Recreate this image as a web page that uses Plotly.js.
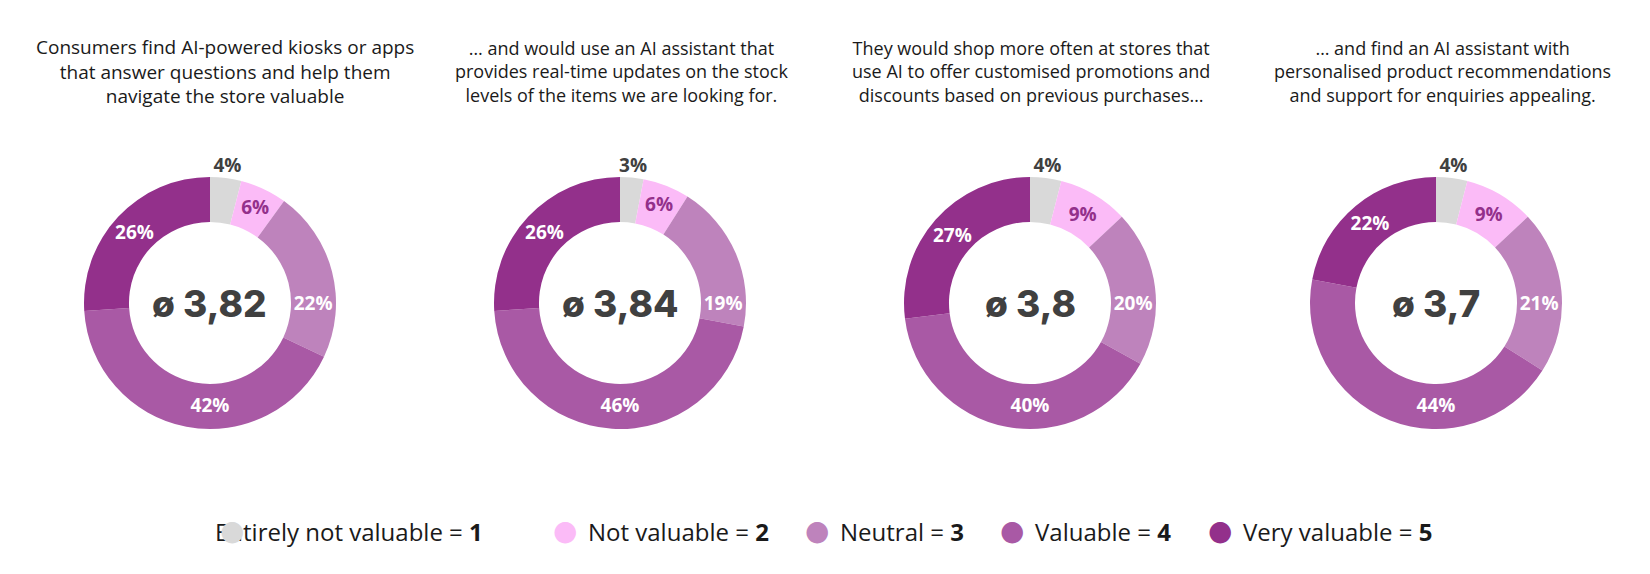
<!DOCTYPE html>
<html>
<head>
<meta charset="utf-8">
<script src="https://cdn.plot.ly/plotly-3.0.1.min.js"></script>
<style>html,body{margin:0;padding:0;background:#fff;}#chart{width:1650px;height:574px;}</style>
</head>
<body>
<div id="chart"></div>
<script>
// ---- data ----
const categories = ["Entirely not valuable", "Not valuable", "Neutral", "Valuable", "Very valuable"];
const scores = [1, 2, 3, 4, 5];
const titles = [
  "Consumers find AI-powered kiosks or apps<br>that answer questions and help them<br>navigate the store valuable",
  "… and would use an AI assistant that<br>provides real-time updates on the stock<br>levels of the items we are looking for.",
  "They would shop more often at stores that<br>use AI to offer customised promotions and<br>discounts based on previous purchases…",
  "… and find an AI assistant with<br>personalised product recommendations<br>and support for enquiries appealing."
];
const values1 = [4, 6, 22, 42, 26];
const values2 = [3, 6, 19, 46, 26];
const values3 = [4, 9, 20, 40, 27];
const values4 = [4, 9, 21, 44, 22];
const averages = ["3,82", "3,84", "3,8", "3,7"];

// ---- style ----
const colors = ["#d9d9d9", "#fbbbf7", "#be83bc", "#a959a5", "#93308b"];
const textColors = ["#404040", "#93308b", "#ffffff", "#ffffff", "#ffffff"];
const W = 1650, H = 574;
const centersX = [210, 620, 1030, 1436];
const titleX = [225, 621, 1031, 1442];
const titleSize = [19, 18, 18, 18];
const cy = 303, R = 126, R2 = 152;
const allValues = [values1, values2, values3, values4];
// legend layout (pixels)
const legMarkerX = [232, 565, 817, 1012, 1220];
const legTextX = [213, 586, 838, 1033, 1241];
const legY = 531;

const data = [];
allValues.forEach((vals, i) => {
  const cx = centersX[i];
  // main donut: labels inside the ring (first slice labelled outside by the ring below)
  data.push({
    type: "pie",
    labels: categories,
    values: vals,
    sort: false,
    direction: "clockwise",
    rotation: 0,
    hole: 0.643,
    marker: {colors: colors, line: {width: 0}},
    texttemplate: ["", "%{value}%", "%{value}%", "%{value}%", "%{value}%"],
    textposition: "inside",
    insidetextorientation: "horizontal",
    textfont: {family: "Open Sans", size: 19, weight: 700, color: textColors},
    showlegend: false,
    hoverinfo: "label+percent",
    domain: {x: [(cx - 180) / W, (cx + 180) / W], y: [1 - (cy + R) / H, 1 - (cy - R) / H]}
  });
  // transparent outer ring carrying the small first-slice label outside the donut
  data.push({
    type: "pie",
    labels: categories,
    values: vals,
    sort: false,
    direction: "clockwise",
    rotation: 0,
    hole: R / R2,
    marker: {colors: ["rgba(0,0,0,0)", "rgba(0,0,0,0)", "rgba(0,0,0,0)", "rgba(0,0,0,0)", "rgba(0,0,0,0)"], line: {width: 0}},
    texttemplate: ["%{value}%", "", "", "", ""],
    textposition: "inside",
    insidetextorientation: "horizontal",
    textfont: {family: "Open Sans", size: 19, weight: 700, color: "#404040"},
    showlegend: false,
    hoverinfo: "skip",
    domain: {x: [(cx - 200) / W, (cx + 200) / W], y: [1 - (cy + R2) / H, 1 - (cy - R2) / H]}
  });
});

const annotations = [];
titles.forEach((t, i) => {
  annotations.push({
    xref: "paper", yref: "paper",
    x: titleX[i] / W, y: 1 - 72 / H,
    xanchor: "center", yanchor: "middle",
    text: t, showarrow: false, align: "center",
    font: {family: "Open Sans", size: titleSize[i], color: "#1a1a1a"}
  });
  annotations.push({
    xref: "paper", yref: "paper",
    x: centersX[i] / W, y: 1 - cy / H,
    xanchor: "center", yanchor: "middle",
    text: "ø " + averages[i],
    showarrow: false,
    font: {family: "Inter", size: 37, weight: 800, color: "#404040"}
  });
});

// legend: text then marker (marker drawn on top, as in the reference)
categories.forEach((c, k) => {
  annotations.push({
    xref: "paper", yref: "paper",
    x: legTextX[k] / W, y: 1 - legY / H,
    xanchor: "left", yanchor: "middle",
    text: c + " = <b>" + scores[k] + "</b>",
    showarrow: false,
    font: {family: "Open Sans", size: 24, color: "#1a1a1a"}
  });
});
categories.forEach((c, k) => {
  annotations.push({
    xref: "paper", yref: "paper",
    x: legMarkerX[k] / W, y: 1 - (legY - 1) / H,
    xanchor: "center", yanchor: "middle",
    text: "●",
    showarrow: false,
    font: {family: "DejaVu Sans", size: 28, color: colors[k]}
  });
});

const layout = {
  width: W, height: H,
  margin: {l: 0, r: 0, t: 0, b: 0},
  paper_bgcolor: "#ffffff", plot_bgcolor: "#ffffff",
  showlegend: false,
  uniformtext: {mode: "show", minsize: 19},
  annotations: annotations
};

Plotly.newPlot("chart", data, layout, {displayModeBar: false, staticPlot: true});
</script>
</body>
</html>
